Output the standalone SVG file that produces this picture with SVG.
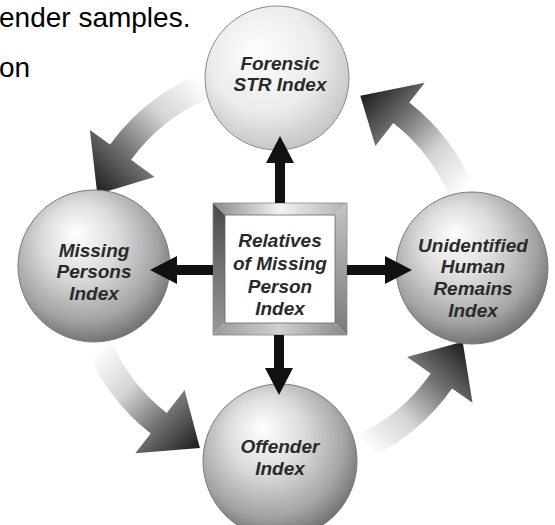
<svg xmlns="http://www.w3.org/2000/svg" width="555" height="525" viewBox="0 0 555 525">
<style>
.lbl{font-family:"Liberation Sans",Arial,sans-serif;font-weight:bold;font-style:italic;font-size:19px;fill:#2a2a2a;text-anchor:middle}
.bg{font-family:"Liberation Sans",Arial,sans-serif;font-size:28px;fill:#000}
.sphere{fill:url(#sph);stroke:#7a7a7a;stroke-width:1}
.link{stroke:#111;stroke-width:10;fill:none;marker-end:url(#head)}
</style>
<defs>
<radialGradient id="sph" cx="0.45" cy="0.4" r="0.62" fx="0.38" fy="0.28">
<stop offset="0" stop-color="#ffffff"/>
<stop offset="0.4" stop-color="#dcdcdc"/>
<stop offset="0.78" stop-color="#a4a4a4"/>
<stop offset="1" stop-color="#6e6e6e"/>
</radialGradient>
<radialGradient id="sphLight" cx="0.45" cy="0.4" r="0.62" fx="0.35" fy="0.3">
<stop offset="0" stop-color="#fdfdfd"/>
<stop offset="0.6" stop-color="#ececec"/>
<stop offset="1" stop-color="#c4c4c4"/>
</radialGradient>
<linearGradient id="gTL" gradientUnits="userSpaceOnUse" x1="206" y1="85" x2="97" y2="194">
<stop offset="0" stop-color="#ffffff"/><stop offset="0.35" stop-color="#d4d4d4"/><stop offset="0.65" stop-color="#777"/><stop offset="1" stop-color="#1c1c1c"/>
</linearGradient>
<linearGradient id="gTR" gradientUnits="userSpaceOnUse" x1="462" y1="194" x2="360" y2="96">
<stop offset="0" stop-color="#ffffff"/><stop offset="0.35" stop-color="#d4d4d4"/><stop offset="0.65" stop-color="#777"/><stop offset="1" stop-color="#1c1c1c"/>
</linearGradient>
<linearGradient id="gBR" gradientUnits="userSpaceOnUse" x1="363" y1="446" x2="463" y2="342">
<stop offset="0" stop-color="#ffffff"/><stop offset="0.35" stop-color="#d4d4d4"/><stop offset="0.65" stop-color="#777"/><stop offset="1" stop-color="#1c1c1c"/>
</linearGradient>
<linearGradient id="gBL" gradientUnits="userSpaceOnUse" x1="100" y1="348" x2="200" y2="448">
<stop offset="0" stop-color="#ffffff"/><stop offset="0.35" stop-color="#d4d4d4"/><stop offset="0.65" stop-color="#777"/><stop offset="1" stop-color="#1c1c1c"/>
</linearGradient>
<linearGradient id="bevTop" x1="0" y1="0" x2="1" y2="0">
<stop offset="0" stop-color="#8a8a8a"/><stop offset="0.5" stop-color="#f2f2f2"/><stop offset="1" stop-color="#b0b0b0"/>
</linearGradient>
<linearGradient id="bevLeft" x1="0" y1="0" x2="0" y2="1">
<stop offset="0" stop-color="#4a4a4a"/><stop offset="1" stop-color="#9a9a9a"/>
</linearGradient>
<linearGradient id="bevRight" x1="0" y1="0" x2="0" y2="1">
<stop offset="0" stop-color="#c4c4c4"/><stop offset="1" stop-color="#7a7a7a"/>
</linearGradient>
<linearGradient id="bevBot" x1="0" y1="0" x2="1" y2="0">
<stop offset="0" stop-color="#9a9a9a"/><stop offset="0.5" stop-color="#d0d0d0"/><stop offset="1" stop-color="#888"/>
</linearGradient>
<marker id="head" viewBox="0 0 27 28" refX="0" refY="14" markerWidth="27" markerHeight="28" markerUnits="userSpaceOnUse" orient="auto">
<path d="M0,0 L27,14 L0,28 Z" fill="#111"/>
</marker>
</defs>
<rect width="555" height="525" fill="#fff"/>
<g id="page-text">
<text class="bg" x="-1" y="27">ender samples.</text>
<text class="bg" x="-1" y="77">on</text>
</g>
<g id="connectors-cycle">
<path fill="url(#gTL)" d="M201.3,73.3 A210,210 0 0 0 110.1,144.6 L89.9,129.9 L97.3,194.2 L154.6,176.9 L131.1,159.8 A184,184 0 0 1 211.1,97.4 Z"/>
<path fill="url(#gTR)" d="M474.7,189.3 A210,210 0 0 0 409.3,102.5 L424.7,82.8 L360.3,95.8 L375.4,145.9 L393.3,123.0 A184,184 0 0 1 450.6,199.1 Z"/>
<path fill="url(#gBR)" d="M368.7,458.3 A210,210 0 0 0 452.0,388.5 L472.5,402.8 L462.7,341.8 L407.0,356.9 L430.7,373.5 A184,184 0 0 1 357.8,434.8 Z"/>
<path fill="url(#gBL)" d="M88.2,353.4 A210,210 0 0 0 150.7,433.5 L135.3,453.2 L199.9,448.0 L184.6,390.1 L166.7,413.0 A184,184 0 0 1 111.9,342.8 Z"/>
</g>
<g id="forensic">
<circle cx="277" cy="78" r="72" fill="url(#sphLight)" stroke="#8a8a8a" stroke-width="1"/>
<text class="lbl" x="280" y="70">Forensic</text>
<text class="lbl" x="280" y="91">STR Index</text>
</g>
<g id="missing">
<circle class="sphere" cx="94" cy="266" r="76"/>
<text class="lbl" x="94" y="257">Missing</text>
<text class="lbl" x="94" y="278">Persons</text>
<text class="lbl" x="94" y="300">Index</text>
</g>
<g id="unidentified">
<circle class="sphere" cx="472" cy="268" r="76"/>
<text class="lbl" x="473" y="252">Unidentified</text>
<text class="lbl" x="473" y="273">Human</text>
<text class="lbl" x="473" y="295">Remains</text>
<text class="lbl" x="473" y="317">Index</text>
</g>
<g id="offender">
<circle class="sphere" cx="280" cy="461" r="77"/>
<text class="lbl" x="280" y="453">Offender</text>
<text class="lbl" x="280" y="475">Index</text>
</g>
<g id="relatives">
<polygon points="213,203 347,203 335,215 225,215" fill="url(#bevTop)"/>
<polygon points="213,203 225,215 225,323 213,335" fill="url(#bevLeft)"/>
<polygon points="347,203 347,335 335,323 335,215" fill="url(#bevRight)"/>
<polygon points="213,335 347,335 335,323 225,323" fill="url(#bevBot)"/>
<rect x="213" y="203" width="134" height="132" fill="none" stroke="#888" stroke-width="0.8"/>
<rect x="225" y="215" width="110" height="108" fill="#fff" stroke="#666" stroke-width="0.8"/>
<text class="lbl" x="280" y="247">Relatives</text>
<text class="lbl" x="280" y="270">of Missing</text>
<text class="lbl" x="280" y="293">Person</text>
<text class="lbl" x="280" y="315">Index</text>
</g>
<g id="connectors-links">
<line class="link" x1="280" y1="203" x2="280" y2="163"/>
<line class="link" x1="279" y1="335" x2="279" y2="368"/>
<line class="link" x1="213" y1="270" x2="177" y2="270"/>
<line class="link" x1="347" y1="270" x2="385" y2="270"/>
</g>
</svg>
